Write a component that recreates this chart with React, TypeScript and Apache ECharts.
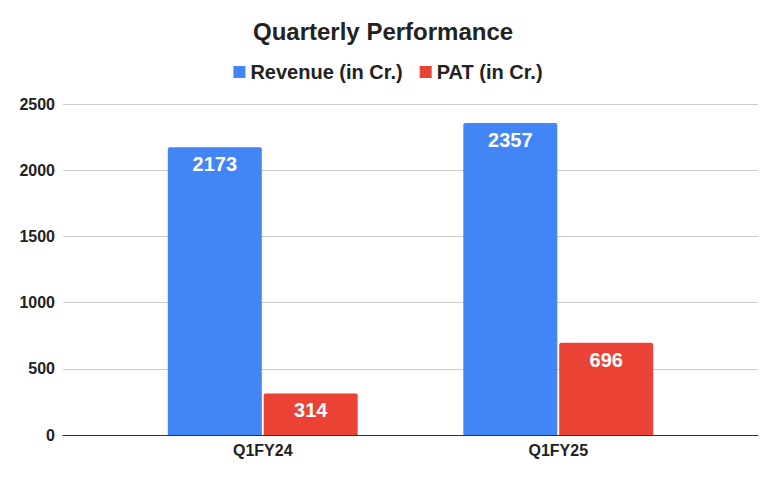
import React, { useEffect, useRef } from "react";
import * as echarts from "echarts";

const categories = ["Q1FY24", "Q1FY25"];
const revenue = [2173, 2357];
const pat = [314, 696];
const seriesNames = ["Revenue (in Cr.)", "PAT (in Cr.)"];
const yMin = 0;
const yMax = 2500;
const yInterval = 500;

const FONT = "'Liberation Sans', Arial, sans-serif";

export default function App() {
  const ref = useRef<HTMLDivElement>(null);
  useEffect(() => {
    if (!ref.current) return;
    const chart = echarts.init(ref.current, undefined, { renderer: "svg" });
    const labelStyle = {
      show: true,
      position: "insideTop" as const,
      distance: 7,
      color: "#ffffff",
      fontWeight: "bold" as const,
      fontSize: 20,
      fontFamily: FONT,
    };
    chart.setOption({
      animation: false,
      backgroundColor: "#ffffff",
      textStyle: { fontFamily: FONT },
      title: {
        text: "Quarterly Performance",
        left: 248,
        top: 14,
        textStyle: { fontSize: 24, fontWeight: "bold", color: "#222222", fontFamily: FONT },
      },
      legend: {
        top: 57,
        left: "center",
        itemWidth: 12,
        itemHeight: 12,
        itemGap: 17,
        icon: "rect",
        data: seriesNames,
        textStyle: { fontSize: 20, fontWeight: "bold", color: "#222222", fontFamily: FONT },
      },
      grid: [
        { left: 115, right: 70, top: 104, bottom: 45, containLabel: false },
        { left: 63, right: 18, top: 104, bottom: 45, containLabel: false },
      ],
      xAxis: [
        {
          type: "category",
          gridIndex: 0,
          data: categories,
          axisLine: { show: false },
          axisTick: { show: false },
          axisLabel: {
            fontSize: 16,
            fontWeight: "bold",
            color: "#222222",
            margin: 7,
            fontFamily: FONT,
          },
        },
        {
          type: "category",
          gridIndex: 1,
          data: [""],
          axisLine: { show: true, lineStyle: { color: "#333333", width: 1 } },
          axisTick: { show: false },
          axisLabel: { show: false },
        },
      ],
      yAxis: [
        {
          type: "value",
          gridIndex: 0,
          min: yMin,
          max: yMax,
          interval: yInterval,
          show: false,
          splitLine: { show: false },
        },
        {
          type: "value",
          gridIndex: 1,
          min: yMin,
          max: yMax,
          interval: yInterval,
          axisLine: { show: false },
          axisTick: { show: false },
          axisLabel: {
            fontSize: 16,
            fontWeight: "bold",
            color: "#222222",
            margin: 8,
            fontFamily: FONT,
            formatter: (v: number) => String(v),
          },
          splitLine: { show: true, lineStyle: { color: "#cccccc", width: 1 } },
        },
      ],
      series: [
        {
          name: seriesNames[0],
          type: "bar",
          xAxisIndex: 0,
          yAxisIndex: 0,
          data: revenue,
          barWidth: 94,
          barGap: "2%",
          itemStyle: { color: "#4285F4", borderRadius: [2, 2, 0, 0] },
          label: labelStyle,
        },
        {
          name: seriesNames[1],
          type: "bar",
          xAxisIndex: 0,
          yAxisIndex: 0,
          data: pat,
          barWidth: 94,
          barGap: "2%",
          itemStyle: { color: "#EA4335", borderRadius: [2, 2, 0, 0] },
          label: labelStyle,
        },
      ],
    });
    return () => chart.dispose();
  }, []);
  return <div ref={ref} style={{ width: 776, height: 480, position: "absolute", left: 0, top: 0 }} />;
}
